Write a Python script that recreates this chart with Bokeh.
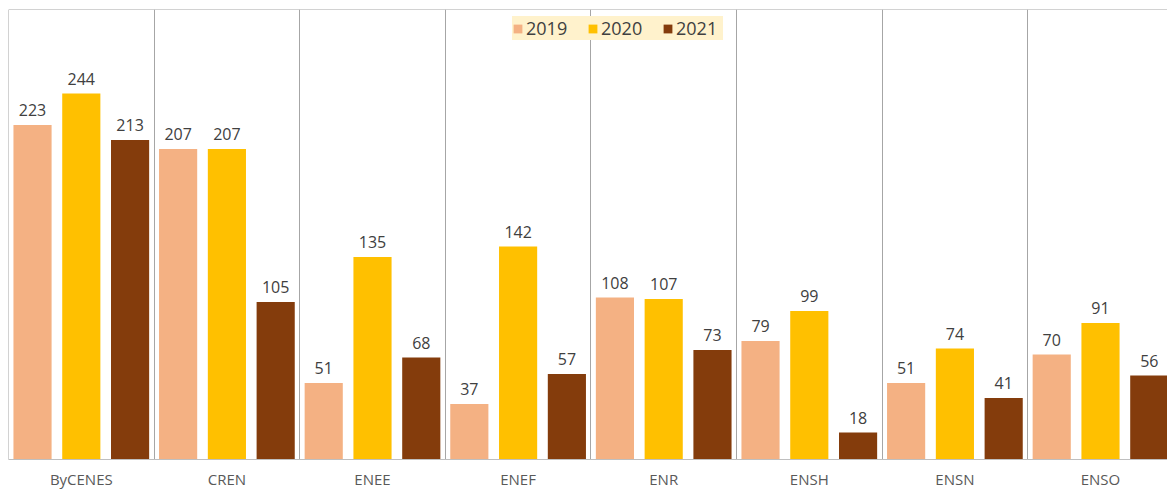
from bokeh.plotting import figure
from bokeh.models import ColumnDataSource, Legend, LegendItem, FixedTicker, Span, Range1d
from bokeh.transform import dodge
from bokeh.core.properties import value
from bokeh.embed import file_html
from bokeh.resources import INLINE

categories = ["ByCENES", "CREN", "ENEE", "ENEF", "ENR", "ENSH", "ENSN", "ENSO"]
series_names = ["2019", "2020", "2021"]
v2019 = [223, 207, 51, 37, 108, 79, 51, 70]
v2020 = [244, 207, 135, 142, 107, 99, 74, 91]
v2021 = [213, 105, 68, 57, 73, 18, 41, 56]
colors = ["#F4B183", "#FFC000", "#843C0C"]

xs = [i + 0.5 for i in range(len(categories))]
src = ColumnDataSource(dict(
    x=xs,
    v2019=v2019, v2020=v2020, v2021=v2021,
    t2019=[str(v) for v in v2019],
    t2020=[str(v) for v in v2020],
    t2021=[str(v) for v in v2021],
))

W = 1167
LEFT = 8
cat_px = 145.6
p = figure(width=W, height=491, output_backend="svg", toolbar_location=None,
           x_range=Range1d(0, (W - LEFT) / cat_px), y_range=Range1d(0, 300),
           min_border_top=9, min_border_bottom=28, min_border_left=LEFT, min_border_right=0)
p.outline_line_color = None
p.background_fill_color = "white"
p.yaxis.visible = False
p.ygrid.grid_line_color = None
p.xgrid.ticker = FixedTicker(ticks=list(range(1, len(categories))))
p.xgrid.grid_line_color = "#a6a6a6"
p.xgrid.grid_line_width = 1

p.xaxis.ticker = FixedTicker(ticks=xs)
p.xaxis.major_label_overrides = {x: c for x, c in zip(xs, categories)}
p.xaxis.major_tick_line_color = None
p.xaxis.major_tick_out = 0
p.xaxis.major_tick_in = 0
p.xaxis.minor_tick_line_color = None
p.xaxis.minor_tick_out = 0
p.xaxis.minor_tick_in = 0
p.xaxis.axis_line_color = "#bfbfbf"
p.xaxis.major_label_text_font = "Open Sans"
p.xaxis.major_label_text_font_size = "15px"
p.xaxis.major_label_text_color = "#595959"
p.xaxis.major_label_standoff = 9

p.add_layout(Span(location=0, dimension="height", line_color="#a6a6a6", line_width=1))
p.add_layout(Span(location=300, dimension="width", line_color="#a6a6a6", line_width=1))

offsets = [-0.335, 0.0, 0.335]
fields = ["v2019", "v2020", "v2021"]
tfields = ["t2019", "t2020", "t2021"]
renderers = []
for off, f, tf, c in zip(offsets, fields, tfields, colors):
    r = p.vbar(x=dodge("x", off), top=f, width=0.262, bottom=0, source=src,
               fill_color=c, line_color=None)
    renderers.append(r)
    p.text(x=dodge("x", off), y=f, text=tf, source=src, text_align="center",
           text_baseline="alphabetic", y_offset=-15, text_font=value("Open Sans"),
           text_font_size="16px", text_color="#404040")

legend = Legend(items=[LegendItem(label=n, renderers=[r]) for n, r in zip(series_names, renderers)],
                orientation="horizontal", location=(504, 419),
                background_fill_color="#FFF2CC", background_fill_alpha=1,
                border_line_color=None, padding=12, spacing=14, margin=0,
                glyph_width=11, glyph_height=11, label_standoff=3, label_width=47,
                label_text_font="Open Sans", label_text_font_size="18px",
                label_text_color="#404040")
p.add_layout(legend)

open("out.html", "w").write(file_html(p, INLINE))
